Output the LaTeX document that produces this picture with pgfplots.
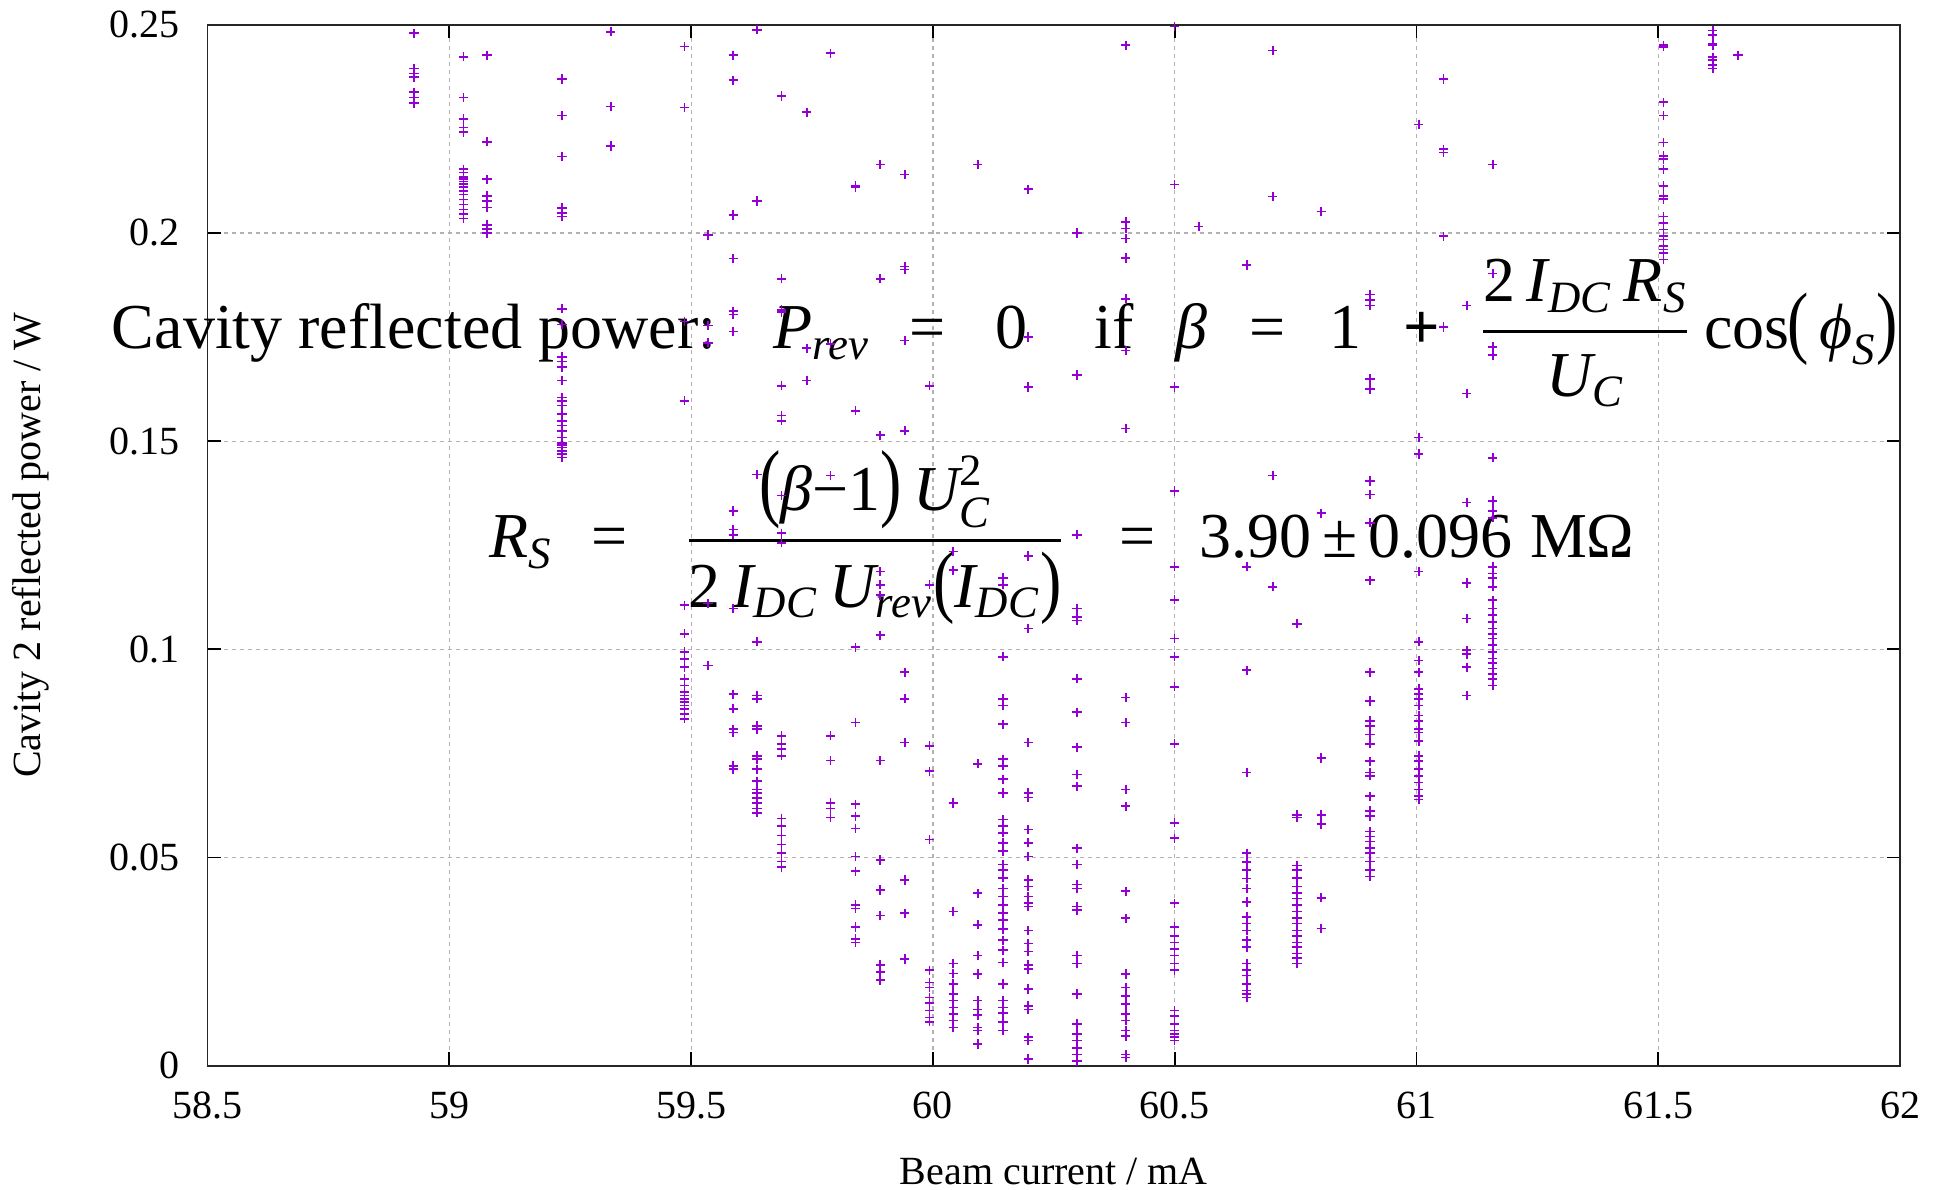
\documentclass[border=0pt]{standalone}
\usepackage{fontspec}
\setmainfont{Liberation Serif}
\usepackage{amsmath}
\usepackage{graphicx}
\usepackage{pgfplots}
\pgfplotsset{compat=1.18}
\definecolor{gpviolet}{RGB}{148,0,211}
\newcommand{\Lp}{\scalebox{1}[1.25]{(}}
\newcommand{\Rp}{\scalebox{1}[1.25]{)}}
\tikzset{fml/.style={inner sep=0pt, font=\fontsize{16}{19.2}\selectfont}}
\begin{document}
\begin{tikzpicture}
\begin{axis}[
  width=423.1pt, height=260.2pt, scale only axis,
  xmin=58.5, xmax=62, ymin=0, ymax=0.25,
  xtick={58.5,59,59.5,60,60.5,61,61.5,62},
  xticklabels={58.5,59,59.5,60,60.5,61,61.5,62},
  ytick={0,0.05,0.1,0.15,0.2,0.25},
  yticklabels={0,0.05,0.1,0.15,0.2,0.25},
  grid=major,
  major grid style={gray!60, line width=0.3pt, dash pattern=on 1pt off 1pt},
  axis line style={black!85, line width=0.45pt},
  major tick length=3.3pt,
  tick style={black, line width=0.45pt},
  ticklabel style={font=\fontsize{10}{12}\selectfont},
  xticklabel style={yshift=-3pt},
  yticklabel style={xshift=-3.5pt},
  xlabel={Beam current / mA},
  ylabel={Cavity 2 reflected power / W},
  label style={font=\fontsize{10}{12}\selectfont},
  xlabel style={at={(axis description cs:0.5,-0.1022)}, anchor=center},
  ylabel style={at={(axis description cs:-0.1045,0.5)}, anchor=center},
  clip=false,
]
\coordinate (LL) at (rel axis cs:0,0);
\coordinate (UR) at (rel axis cs:1,1);
\addplot[only marks, mark=+, mark size=1.15pt, color=gpviolet, mark options={line width=0.4pt}] coordinates {
(58.927,0.248)(58.927,0.2395)(58.927,0.2383)(58.927,0.2374)(58.927,0.2338)(58.927,0.2325)(58.927,0.2312)
(59.029,0.2423)(59.029,0.2325)(59.029,0.2274)(59.029,0.2253)(59.029,0.2242)(59.029,0.2153)(59.029,0.2145)(59.029,0.2135)(59.029,0.2129)(59.029,0.2124)(59.029,0.2118)(59.029,0.2110)(59.029,0.2101)(59.029,0.2092)(59.029,0.2080)(59.029,0.2068)(59.029,0.2056)(59.029,0.2045)(59.029,0.2035)
(59.078,0.2427)(59.078,0.2219)(59.078,0.2129)(59.078,0.2089)(59.078,0.2077)(59.078,0.2061)(59.078,0.2019)(59.078,0.2010)(59.078,0.2000)
(59.233,0.237)(59.233,0.2282)(59.233,0.2184)(59.233,0.206)(59.233,0.2048)(59.233,0.204)(59.233,0.1818)(59.233,0.178)(59.233,0.1702)(59.233,0.1691)(59.233,0.1678)(59.233,0.1646)(59.233,0.1605)(59.233,0.1597)(59.233,0.1586)(59.233,0.1565)(59.233,0.1549)(59.233,0.1538)(59.233,0.1525)(59.233,0.1509)(59.233,0.1496)(59.233,0.149)(59.233,0.1485)(59.233,0.1477)(59.233,0.1469)(59.233,0.1461)
(59.334,0.2483)(59.334,0.2304)(59.334,0.2209)
(59.486,0.2448)(59.486,0.2301)(59.486,0.1787)(59.486,0.1597)(59.486,0.1106)(59.486,0.1037)(59.486,0.0994)(59.486,0.0977)(59.486,0.0957)(59.486,0.0929)(59.486,0.0913)(59.486,0.0897)(59.486,0.0889)(59.486,0.0881)(59.486,0.0873)(59.486,0.0865)(59.486,0.0857)(59.486,0.0844)(59.486,0.0833)
(59.535,0.1995)(59.535,0.1778)(59.535,0.1736)(59.535,0.1110)(59.535,0.0961)
(59.587,0.2427)(59.587,0.2367)(59.587,0.2043)(59.587,0.1939)(59.587,0.1812)(59.587,0.1804)(59.587,0.1763)(59.587,0.1332)(59.587,0.1288)(59.587,0.1275)(59.587,0.1098)(59.587,0.0892)(59.587,0.0857)(59.587,0.0808)(59.587,0.0800)(59.587,0.072)(59.587,0.0712)
(59.636,0.2488)(59.636,0.2077)(59.636,0.142)(59.636,0.1018)(59.636,0.0889)(59.636,0.0881)(59.636,0.0816)(59.636,0.0808)(59.636,0.0744)(59.636,0.0736)(59.636,0.0712)(59.636,0.0683)(59.636,0.0663)(59.636,0.0655)(59.636,0.0643)(59.636,0.0631)(59.636,0.0618)(59.636,0.0607)
(59.687,0.2329)(59.687,0.1890)(59.687,0.1815)(59.687,0.1810)(59.687,0.1633)(59.687,0.1562)(59.687,0.1549)(59.687,0.1369)(59.687,0.1279)(59.687,0.1256)(59.687,0.0792)(59.687,0.0773)(59.687,0.0760)(59.687,0.0744)(59.687,0.0594)(59.687,0.0575)(59.687,0.0553)(59.687,0.0531)(59.687,0.051)(59.687,0.049)(59.687,0.0477)
(59.739,0.229)(59.739,0.1723)(59.739,0.1646)
(59.788,0.2432)(59.788,0.1734)(59.788,0.1417)(59.788,0.0792)(59.788,0.0733)(59.788,0.0631)(59.788,0.0618)(59.788,0.0596)
(59.840,0.2113)(59.840,0.211)(59.840,0.1573)(59.840,0.1005)(59.840,0.0824)(59.840,0.0628)(59.840,0.0599)(59.840,0.057)(59.840,0.0502)(59.840,0.0467)(59.840,0.0386)(59.840,0.0377)(59.840,0.0333)(59.840,0.0304)(59.840,0.0296)
(59.891,0.2164)(59.891,0.189)(59.891,0.1514)(59.891,0.1187)(59.891,0.1155)(59.891,0.1130)(59.891,0.1034)(59.891,0.0733)(59.891,0.0494)(59.891,0.0422)(59.891,0.0361)(59.891,0.0242)(59.891,0.0225)(59.891,0.0205)
(59.942,0.214)(59.942,0.1919)(59.942,0.1912)(59.942,0.1742)(59.942,0.1525)(59.942,0.0945)(59.942,0.0881)(59.942,0.0776)(59.942,0.0446)(59.942,0.0366)(59.942,0.0256)
(59.993,0.1633)(59.993,0.1155)(59.993,0.0768)(59.993,0.0707)(59.993,0.0543)(59.993,0.0229)(59.993,0.02)(59.993,0.0188)(59.993,0.0164)(59.993,0.0151)(59.993,0.0132)(59.993,0.0116)(59.993,0.0105)
(60.042,0.1235)(60.042,0.119)(60.042,0.0631)(60.042,0.037)(60.042,0.0245)(60.042,0.0221)(60.042,0.0196)(60.042,0.0172)(60.042,0.0156)(60.042,0.014)(60.042,0.0124)(60.042,0.0108)(60.042,0.0092)
(60.093,0.2164)(60.093,0.0725)(60.093,0.0414)(60.093,0.0338)(60.093,0.0264)(60.093,0.022)(60.093,0.0156)(60.093,0.0135)(60.093,0.0121)(60.093,0.0092)(60.093,0.0084)(60.093,0.0052)
(60.145,0.1171)(60.145,0.1155)(60.145,0.0982)(60.145,0.0881)(60.145,0.0865)(60.145,0.082)(60.145,0.0736)(60.145,0.072)(60.145,0.0688)(60.145,0.0655)(60.145,0.0591)(60.145,0.0575)(60.145,0.0559)(60.145,0.0535)(60.145,0.0515)(60.145,0.0483)(60.145,0.047)(60.145,0.0451)(60.145,0.0425)(60.145,0.0406)(60.145,0.0386)(60.145,0.0366)(60.145,0.035)(60.145,0.0328)(60.145,0.0301)(60.145,0.0277)(60.145,0.0248)(60.145,0.0196)(60.145,0.0156)(60.145,0.014)(60.145,0.0127)(60.145,0.0105)(60.145,0.0084)
(60.197,0.2105)(60.197,0.175)(60.197,0.163)(60.197,0.1224)(60.197,0.105)(60.197,0.0776)(60.197,0.0655)(60.197,0.0644)(60.197,0.0567)(60.197,0.0535)(60.197,0.0502)(60.197,0.0446)(60.197,0.043)(60.197,0.0406)(60.197,0.039)(60.197,0.0382)(60.197,0.0325)(60.197,0.0293)(60.197,0.0274)(60.197,0.0242)(60.197,0.0232)(60.197,0.0184)(60.197,0.0143)(60.197,0.0135)(60.197,0.0068)(60.197,0.006)(60.197,0.0016)
(60.298,0.2)(60.298,0.1659)(60.298,0.1275)(60.298,0.1098)(60.298,0.1077)(60.298,0.1069)(60.298,0.0929)(60.298,0.0849)(60.298,0.0765)(60.298,0.0699)(60.298,0.0671)(60.298,0.0522)(60.298,0.0483)(60.298,0.0435)(60.298,0.0425)(60.298,0.0382)(60.298,0.0374)(60.298,0.0264)(60.298,0.0245)(60.298,0.0172)(60.298,0.01)(60.298,0.0076)(60.298,0.006)(60.298,0.0043)(60.298,0.0027)(60.298,0.0011)
(60.399,0.2451)(60.399,0.2027)(60.399,0.2011)(60.399,0.1987)(60.399,0.194)(60.399,0.1842)(60.399,0.1718)(60.399,0.153)(60.399,0.0884)(60.399,0.0824)(60.399,0.0663)(60.399,0.0623)(60.399,0.0419)(60.399,0.0354)(60.399,0.022)(60.399,0.0188)(60.399,0.0167)(60.399,0.0148)(60.399,0.0124)(60.399,0.0108)(60.399,0.0084)(60.399,0.0071)(60.399,0.0027)(60.399,0.0019)
(60.5,0.2496)(60.5,0.2116)(60.5,0.163)(60.5,0.138)(60.5,0.1198)(60.5,0.1119)(60.5,0.1026)(60.5,0.0982)(60.5,0.091)(60.5,0.0773)(60.5,0.0583)(60.5,0.0546)(60.5,0.039)(60.5,0.0333)(60.5,0.0312)(60.5,0.0296)(60.5,0.028)(60.5,0.0264)(60.5,0.0245)(60.5,0.0229)(60.5,0.0132)(60.5,0.0119)(60.5,0.01)(60.5,0.0084)(60.5,0.0076)(60.5,0.0068)(60.5,0.006)
(60.55,0.2016)
(60.649,0.1923)(60.649,0.1198)(60.649,0.095)(60.649,0.0704)(60.649,0.051)(60.649,0.0489)(60.649,0.047)(60.649,0.0449)(60.649,0.0425)(60.649,0.0393)(60.649,0.0357)(60.649,0.0341)(60.649,0.0325)(60.649,0.0301)(60.649,0.0285)(60.649,0.0245)(60.649,0.0229)(60.649,0.0216)(60.649,0.0196)(60.649,0.018)(60.649,0.0172)(60.649,0.0164)
(60.703,0.2438)(60.703,0.2088)(60.703,0.1417)(60.703,0.115)
(60.753,0.1061)(60.753,0.0602)(60.753,0.0596)(60.753,0.0481)(60.753,0.047)(60.753,0.0451)(60.753,0.043)(60.753,0.0414)(60.753,0.0401)(60.753,0.0386)(60.753,0.037)(60.753,0.0354)(60.753,0.0341)(60.753,0.0325)(60.753,0.0312)(60.753,0.0296)(60.753,0.0285)(60.753,0.0269)(60.753,0.0258)(60.753,0.0245)
(60.803,0.2052)(60.803,0.1327)(60.803,0.0739)(60.803,0.0602)(60.803,0.058)(60.803,0.0403)(60.803,0.0329)
(60.904,0.1852)(60.904,0.1839)(60.904,0.1826)(60.904,0.1649)(60.904,0.1625)(60.904,0.1404)(60.904,0.1372)(60.904,0.1304)(60.904,0.1166)(60.904,0.0945)(60.904,0.0876)(60.904,0.0828)(60.904,0.0816)(60.904,0.0795)(60.904,0.0773)(60.904,0.0731)(60.904,0.0704)(60.904,0.0696)(60.904,0.0647)(60.904,0.0612)(60.904,0.0599)(60.904,0.0562)(60.904,0.055)(60.904,0.0538)(60.904,0.0522)(60.904,0.051)(60.904,0.049)(60.904,0.047)(60.904,0.0454)
(61.005,0.2261)(61.005,0.1509)(61.005,0.1469)(61.005,0.1187)(61.005,0.1018)(61.005,0.0973)(61.005,0.0945)(61.005,0.0905)(61.005,0.0892)(61.005,0.0881)(61.005,0.0865)(61.005,0.0841)(61.005,0.0828)(61.005,0.0808)(61.005,0.08)(61.005,0.0779)(61.005,0.0744)(61.005,0.0731)(61.005,0.0712)(61.005,0.0696)(61.005,0.068)(61.005,0.0663)(61.005,0.0647)(61.005,0.0639)
(61.056,0.237)(61.056,0.2201)(61.056,0.2193)(61.056,0.1992)(61.056,0.1774)
(61.104,0.1826)(61.104,0.1614)(61.104,0.1353)(61.104,0.1159)(61.104,0.1074)(61.104,0.0998)(61.104,0.0988)(61.104,0.0957)(61.104,0.0889)
(61.158,0.2164)(61.158,0.1903)(61.158,0.1726)(61.158,0.1707)(61.158,0.146)(61.158,0.1356)(61.158,0.1332)(61.158,0.1316)(61.158,0.1198)(61.158,0.1182)(61.158,0.1171)(61.158,0.115)(61.158,0.1118)(61.158,0.1098)(61.158,0.1082)(61.158,0.1066)(61.158,0.105)(61.158,0.1037)(61.158,0.1026)(61.158,0.101)(61.158,0.0994)(61.158,0.0978)(61.158,0.0967)(61.158,0.0954)(61.158,0.0941)(61.158,0.0929)(61.158,0.0913)
(61.511,0.2451)(61.511,0.2447)(61.511,0.2314)(61.511,0.2282)(61.511,0.2217)(61.511,0.2185)(61.511,0.2177)(61.511,0.2153)(61.511,0.2113)(61.511,0.2089)(61.511,0.2081)(61.511,0.204)(61.511,0.2024)(61.511,0.2008)(61.511,0.1992)(61.511,0.1984)(61.511,0.1968)(61.511,0.196)(61.511,0.1952)(61.511,0.1936)
(61.613,0.2486)(61.613,0.2475)(61.613,0.2454)(61.613,0.2451)(61.613,0.2422)(61.613,0.2415)(61.613,0.2403)(61.613,0.2395)
(61.665,0.2427)
};
% line 1
\node[fml, anchor=base west] at (axis cs:58.3006,0.1722) {Cavity reflected power:};
\node[fml, anchor=base west] at (axis cs:59.6684,0.1722) {$\textit{P}_{\textit{rev}}$};
\node[fml, anchor=base west] at (axis cs:59.9496,0.1722) {=};
\node[fml, anchor=base west] at (axis cs:60.1286,0.1722) {0};
\node[fml, anchor=base west] at (axis cs:60.3331,0.1722) {if};
\node[fml, anchor=base west] at (axis cs:60.4993,0.1722) {\textit{β}};
\node[fml, anchor=base west] at (axis cs:60.6527,0.1722) {=};
\node[fml, anchor=base west] at (axis cs:60.8189,0.1722) {1};
\node[fml, anchor=base west] at (axis cs:60.9723,0.1722) {\textbf{+}};
\node[fml, anchor=base] at (axis cs:61.3494,0.1722) {$\genfrac{}{}{0.8pt}{0}{\textup{2}\,\textit{I}_{\textit{DC}}\,\textit{R}_{\textit{S}}}{\textit{U}_{\textit{C}}}$};
\node[fml, anchor=base west] at (axis cs:61.5935,0.1722) {cos};
\node[fml, anchor=base west] at (axis cs:61.7648,0.1722) {\Lp\,$\textit{ϕ}_{\textit{S}}$\Rp};
% line 2
\node[fml, anchor=base west] at (axis cs:59.0804,0.122) {$\textit{R}_{\textit{S}}$};
\node[fml, anchor=base west] at (axis cs:59.2926,0.122) {=};
\node[fml, anchor=base] at (axis cs:59.8806,0.122) {$\genfrac{}{}{0.8pt}{0}{\mbox{\scalebox{1}[1.35]{(}\textit{β}−1\scalebox{1}[1.35]{)}}\,\textit{U}_{\textit{C}}^{\textup{2}}}{\textup{2}\,\textit{I}_{\textit{DC}}\,\textit{U}_{\textit{rev}}\mbox{\Lp}\textit{I}_{\textit{DC}}\mbox{\Rp}}$};
\node[fml, anchor=base west] at (axis cs:60.3843,0.122) {=};
\node[fml, anchor=base west] at (axis cs:60.5504,0.122) {3.90\,±\,0.096\;MΩ};
\end{axis}
\pgfresetboundingbox
\path[use as bounding box] ([xshift=-51.9pt,yshift=-30.9pt]LL) rectangle ([xshift=9.5pt,yshift=6.2pt]UR);
\end{tikzpicture}
\end{document}
